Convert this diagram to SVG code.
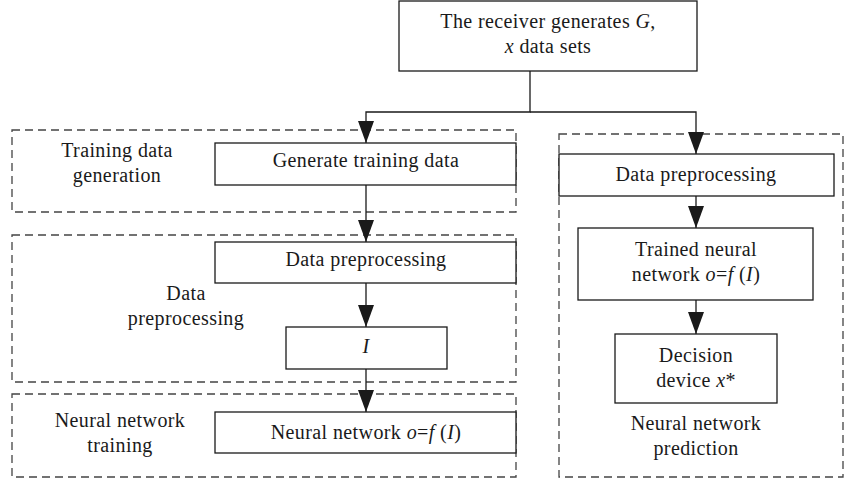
<svg xmlns="http://www.w3.org/2000/svg" width="847" height="481" viewBox="0 0 847 481">
<defs>
<marker id="arr" markerUnits="userSpaceOnUse" markerWidth="22" markerHeight="16" refX="22" refY="8" orient="auto" viewBox="0 0 22 16">
<path d="M0,0 L22,8 L0,16 Z" fill="#1a1a1a"/>
</marker>
</defs>
<style>
.box{fill:#fff;stroke:#1a1a1a;stroke-width:1.3}
.dash{fill:none;stroke:#444;stroke-width:1.3;stroke-dasharray:8 5}
.t{font-family:"Liberation Serif","Times New Roman",serif;font-size:20px;letter-spacing:0.4px;fill:#1a1a1a;text-anchor:middle}
.i{font-style:italic}
.c{fill:none;stroke:#1a1a1a;stroke-width:1.3}
</style>
<rect width="847" height="481" fill="#fff"/>
<g id="groups">
<rect id="grp-training-data" class="dash" x="12" y="130" width="504" height="82"/>
<rect id="grp-preprocessing" class="dash" x="12" y="235" width="504" height="147"/>
<rect id="grp-nn-training" class="dash" x="12" y="394" width="504" height="83"/>
<rect id="grp-prediction" class="dash" x="559" y="134" width="284" height="343"/>
</g>
<g id="group-labels">
<text class="t" x="117" y="157">Training data</text>
<text class="t" x="117" y="182">generation</text>
<text class="t" x="186" y="300">Data</text>
<text class="t" x="186" y="325">preprocessing</text>
<text class="t" x="120" y="427">Neural network</text>
<text class="t" x="120" y="452">training</text>
<text class="t" x="696" y="430">Neural network</text>
<text class="t" x="696" y="455">prediction</text>
</g>
<g id="connectors">
<polyline class="c" points="530,71 530,112 366,112 366,143" marker-end="url(#arr)"/>
<polyline class="c" points="530,112 696,112 696,154" marker-end="url(#arr)"/>
<line class="c" x1="366" y1="185" x2="366" y2="242" marker-end="url(#arr)"/>
<line class="c" x1="366" y1="283" x2="366" y2="327" marker-end="url(#arr)"/>
<line class="c" x1="366" y1="369" x2="366" y2="412" marker-end="url(#arr)"/>
<line class="c" x1="696" y1="196" x2="696" y2="228" marker-end="url(#arr)"/>
<line class="c" x1="696" y1="300" x2="696" y2="334" marker-end="url(#arr)"/>
</g>
<g id="n-receiver">
<rect class="box" x="399" y="1" width="298" height="70"/>
<text class="t" x="548" y="28">The receiver generates <tspan class="i">G</tspan>,</text>
<text class="t" x="548" y="53"><tspan class="i">x</tspan> data sets</text>
</g>
<g id="n-generate">
<rect class="box" x="215" y="143" width="301" height="42"/>
<text class="t" x="366" y="167">Generate training data</text>
</g>
<g id="n-preproc-left">
<rect class="box" x="215" y="242" width="301" height="41"/>
<text class="t" x="366" y="266">Data preprocessing</text>
</g>
<g id="n-I">
<rect class="box" x="286" y="327" width="161" height="42"/>
<text class="t i" x="366" y="353">I</text>
</g>
<g id="n-nn">
<rect class="box" x="215" y="412" width="301" height="41"/>
<text class="t" x="366" y="439">Neural network <tspan class="i">o</tspan>=<tspan class="i">f</tspan> (<tspan class="i">I</tspan>)</text>
</g>
<g id="n-preproc-right">
<rect class="box" x="559" y="154" width="275" height="42"/>
<text class="t" x="696" y="181">Data preprocessing</text>
</g>
<g id="n-trained">
<rect class="box" x="578" y="228" width="235" height="72"/>
<text class="t" x="696" y="256">Trained neural</text>
<text class="t" x="696" y="281">network <tspan class="i">o</tspan>=<tspan class="i">f</tspan> (<tspan class="i">I</tspan>)</text>
</g>
<g id="n-decision">
<rect class="box" x="615" y="334" width="162" height="69"/>
<text class="t" x="696" y="362">Decision</text>
<text class="t" x="696" y="387">device <tspan class="i">x</tspan>*</text>
</g>
</svg>
